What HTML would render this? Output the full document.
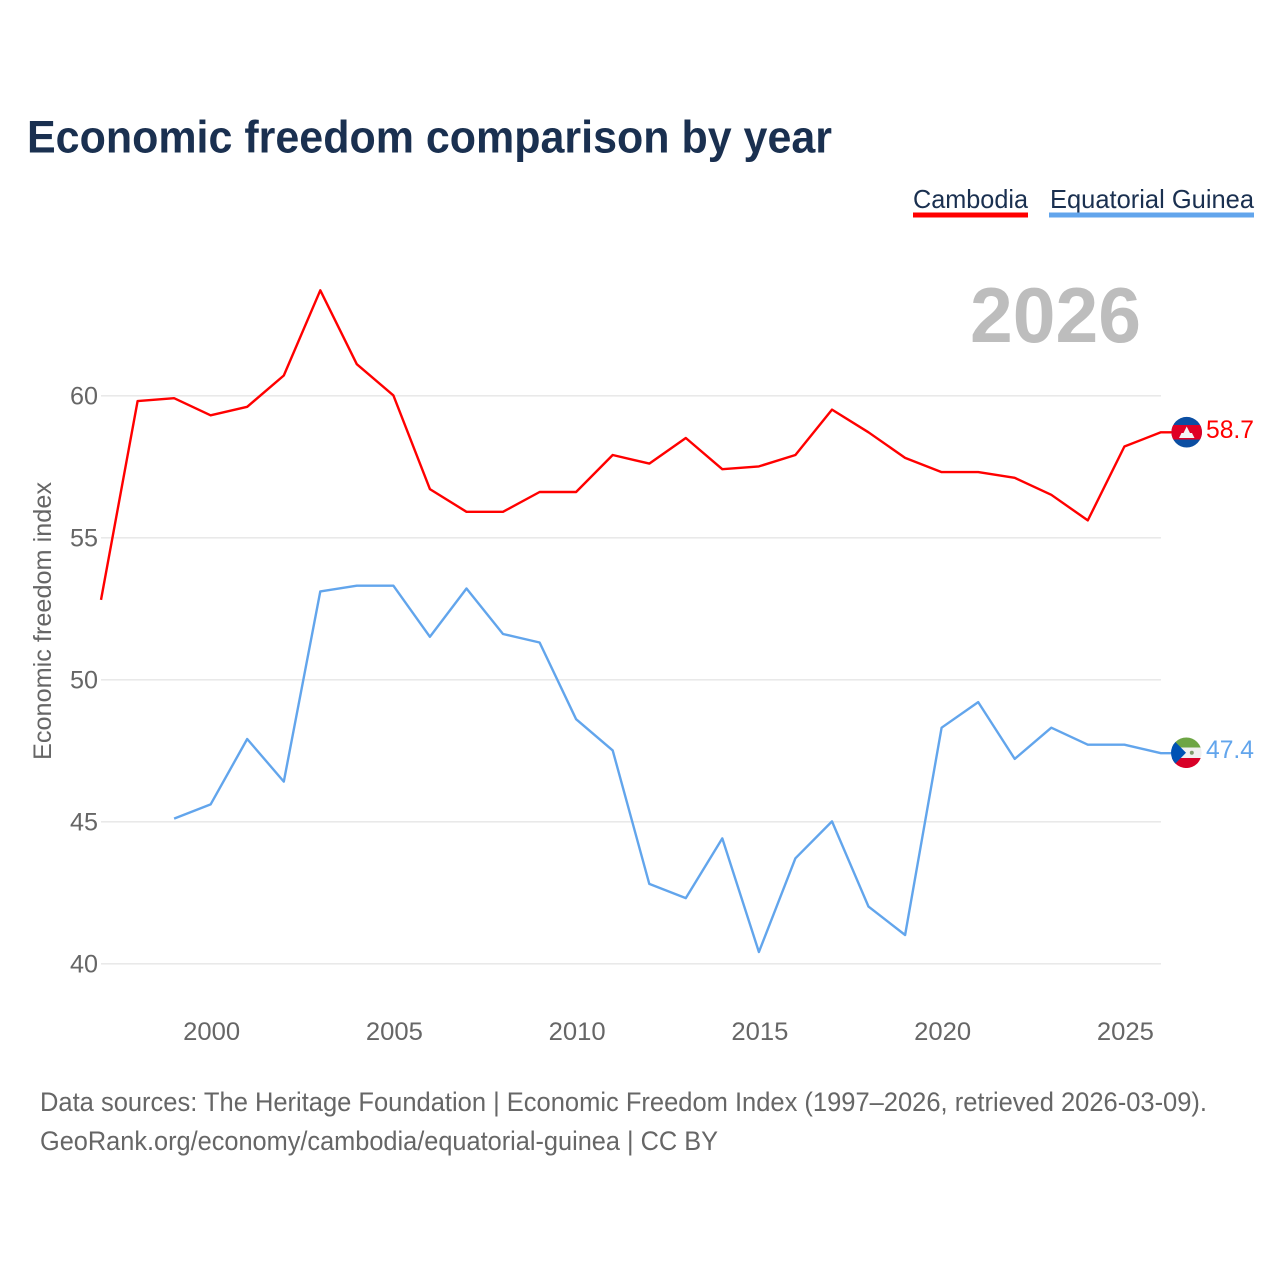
<!DOCTYPE html>
<html lang="en">
<head>
<meta charset="utf-8">
<title>Economic freedom comparison by year</title>
<style>
html,body{margin:0;padding:0;background:#fff;}
svg{display:block;}
text{font-family:"Liberation Sans",sans-serif;}
</style>
</head>
<body>
<svg id="chart" xmlns="http://www.w3.org/2000/svg" width="1280" height="1280" viewBox="0 0 1280 1280">
  <defs>
    <clipPath id="flag-clip-a"><circle cx="1186.700" cy="432.200" r="15.300"/></clipPath>
    <clipPath id="flag-clip-b"><circle cx="1186.300" cy="752.800" r="15.300"/></clipPath>
  </defs>
  <rect width="1280" height="1280" fill="#fff"/>
  <text x="27" y="152.500" font-size="45" font-weight="bold" fill="#1a3050" textLength="805" lengthAdjust="spacingAndGlyphs">Economic freedom comparison by year</text>

  <g>
    <text x="913" y="208" font-size="26" fill="#1a3050" textLength="115" lengthAdjust="spacingAndGlyphs">Cambodia</text>
    <rect x="913" y="212.500" width="115" height="5" fill="#ff0000"/>
  </g>
  <g>
    <text x="1050" y="208" font-size="26" fill="#1a3050" textLength="204" lengthAdjust="spacingAndGlyphs">Equatorial Guinea</text>
    <rect x="1049" y="212.500" width="205" height="5" fill="#62a5ec"/>
  </g>

  <text x="970" y="342" font-size="78" font-weight="bold" fill="#bdbdbd" textLength="171" lengthAdjust="spacingAndGlyphs">2026</text>

  <g id="grid"></g>
  <g id="y-ticks"></g>
  <g id="x-ticks"></g>

  <text transform="translate(51 621) rotate(-90)" text-anchor="middle" font-size="25" fill="#666666" textLength="278" lengthAdjust="spacingAndGlyphs">Economic freedom index</text>

  <g id="series"></g>

  <g clip-path="url(#flag-clip-a)">
    <rect x="1171" y="416" width="32" height="32" fill="#0b4ea2"/>
    <rect x="1171" y="425" width="32" height="14.500" fill="#e00025"/>
    <path d="M1179 438 L1181.500 433 L1183.500 433 L1186.700 426.500 L1190 433 L1192 433 L1194.500 438 Z" fill="#f4f4f4"/>
  </g>
  <g clip-path="url(#flag-clip-b)">
    <rect x="1171" y="737" width="32" height="10.500" fill="#6da544"/>
    <rect x="1171" y="747.500" width="32" height="10.500" fill="#f0f0f0"/>
    <rect x="1171" y="758" width="32" height="10" fill="#d80027"/>
    <path d="M1171 737.500 L1186 752.800 L1171 768 Z" fill="#0052b4"/>
    <circle cx="1191.800" cy="752.800" r="2" fill="#7d9a6a"/>
  </g>

  <text x="1206" y="438" font-size="25" fill="#ff0000" textLength="48" lengthAdjust="spacingAndGlyphs">58.7</text>
  <text x="1206" y="758" font-size="25" fill="#62a5ec" textLength="48" lengthAdjust="spacingAndGlyphs">47.4</text>

  <text x="40" y="1111" font-size="27" fill="#666666" textLength="1167" lengthAdjust="spacingAndGlyphs">Data sources: The Heritage Foundation | Economic Freedom Index (1997–2026, retrieved 2026-03-09).</text>
  <text x="40" y="1150" font-size="27" fill="#666666" textLength="678" lengthAdjust="spacingAndGlyphs">GeoRank.org/economy/cambodia/equatorial-guinea | CC BY</text>
</svg>
<script>
var years = [1997,1998,1999,2000,2001,2002,2003,2004,2005,2006,2007,2008,2009,2010,2011,2012,2013,2014,2015,2016,2017,2018,2019,2020,2021,2022,2023,2024,2025,2026];
var cambodiaValues = [52.8,59.8,59.9,59.3,59.6,60.7,63.7,61.1,60.0,56.7,55.9,55.9,56.6,56.6,57.9,57.6,58.5,57.4,57.5,57.9,59.5,58.7,57.8,57.3,57.3,57.1,56.5,55.6,58.2,58.7];
var guineaValues = [null,null,45.1,45.6,47.9,46.4,53.1,53.3,53.3,51.5,53.2,51.6,51.3,48.6,47.5,42.8,42.3,44.4,40.4,43.7,45.0,42.0,41.0,48.3,49.2,47.2,48.3,47.7,47.7,47.4];
var yTickValues = [40,45,50,55,60];
var xTickValues = [2000,2005,2010,2015,2020,2025];

var NS = 'http://www.w3.org/2000/svg';
function xScale(year){ return 101 + (year - 1997) * 36.55; }
function yScale(value){ return 963.4 - (value - 40) * 28.4; }
function make(tag, parent){
  var el = document.createElementNS(NS, tag);
  parent.appendChild(el);
  return el;
}

var gridGroup = document.getElementById('grid');
var yTickGroup = document.getElementById('y-ticks');
yTickValues.forEach(function(v){
  var line = make('line', gridGroup);
  
  
  line.setAttribute('x1', xScale(1997));
  line.setAttribute('x2', xScale(2026));
  line.setAttribute('y1', yScale(v) + 0.4);
  line.setAttribute('y2', yScale(v) + 0.4);
  line.setAttribute('stroke', '#e6e6e6');
  line.setAttribute('stroke-width', '1.3');
  var label = make('text', yTickGroup);
  
  
  label.setAttribute('x', 98);
  label.setAttribute('y', yScale(v) + 9.2);
  label.setAttribute('text-anchor', 'end');
  label.setAttribute('font-size', '25');
  label.setAttribute('fill', '#666666');
  label.setAttribute('textLength', '28');
  label.setAttribute('lengthAdjust', 'spacingAndGlyphs');
  label.textContent = v;
});

var xTickGroup = document.getElementById('x-ticks');
xTickValues.forEach(function(t){
  var label = make('text', xTickGroup);
  
  
  label.setAttribute('x', xScale(t) + 1);
  label.setAttribute('y', 1040);
  label.setAttribute('text-anchor', 'middle');
  label.setAttribute('font-size', '25');
  label.setAttribute('fill', '#666666');
  label.setAttribute('textLength', '57');
  label.setAttribute('lengthAdjust', 'spacingAndGlyphs');
  label.textContent = t;
});

function drawSeries(values, color, name){
  var group = document.getElementById('series');
  var pts = [];
  values.forEach(function(v, i){
    if (v !== null) { pts.push(xScale(years[i]).toFixed(1) + ',' + yScale(v).toFixed(1)); }
  });
  var lastValue = values[values.length - 1];
  pts.push((xScale(years[years.length - 1]) + 12).toFixed(1) + ',' + yScale(lastValue).toFixed(1));
  var line = make('polyline', group);
  
  
  line.setAttribute('points', pts.join(' '));
  line.setAttribute('fill', 'none');
  line.setAttribute('stroke', color);
  line.setAttribute('stroke-width', '2.4');
  line.setAttribute('stroke-linejoin', 'round');
}
drawSeries(cambodiaValues, '#ff0000', 'line-cambodia');
drawSeries(guineaValues, '#62a5ec', 'line-equatorial-guinea');
</script>
</body>
</html>
